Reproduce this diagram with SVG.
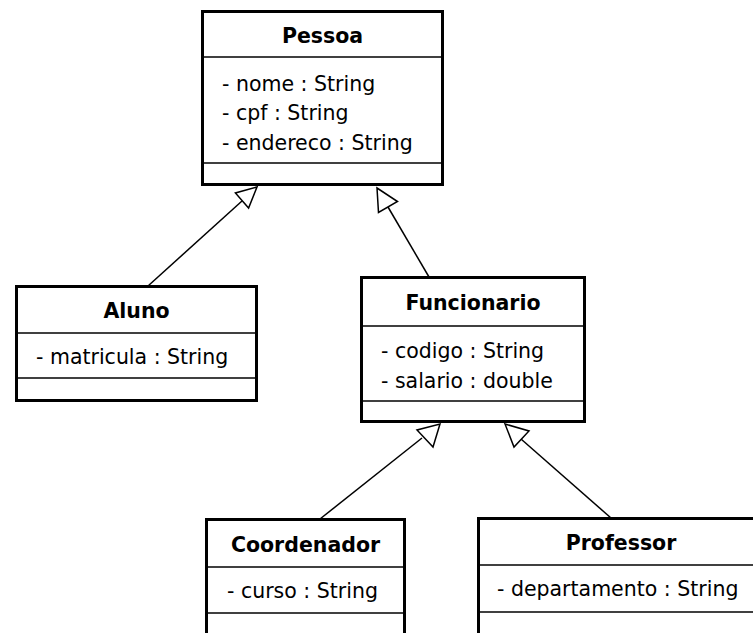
<svg xmlns="http://www.w3.org/2000/svg" width="753" height="633" viewBox="0 0 753 633">
<style>
.box{fill:#fff;stroke:#000;stroke-width:3}
.div{stroke:#000;stroke-width:1.5}
.title{font-family:"DejaVu Sans",Verdana,sans-serif;font-weight:bold;font-size:20.5px;text-anchor:middle;fill:#000}
.attr{font-family:"DejaVu Sans",Verdana,sans-serif;font-size:20.5px;fill:#000}
.edge{stroke:#000;stroke-width:1.5;fill:none}
.head{fill:#fff;stroke:#000;stroke-width:1.5}
</style>
<rect width="753" height="633" fill="#fff"/>
<g id="connectors">
<line class="edge" x1="148" y1="286" x2="242" y2="201"/>
<polygon class="head" points="257,187 248.6,208 235.4,193"/>
<line class="edge" x1="429" y1="277" x2="388" y2="207"/>
<polygon class="head" points="377,188 397.5,201.5 378.5,212.5"/>
<line class="edge" x1="320" y1="519" x2="422" y2="438"/>
<polygon class="head" points="440,424 433,447 417,430"/>
<line class="edge" x1="611" y1="518" x2="521" y2="439"/>
<polygon class="head" points="505,424 529,431 514,447"/>
</g>
<g id="Pessoa">
<rect class="box" x="202.5" y="11.5" width="240" height="173"/>
<line class="div" x1="202.5" y1="57" x2="442.5" y2="57"/>
<line class="div" x1="202.5" y1="163" x2="442.5" y2="163"/>
<text class="title" x="322.5" y="43">Pessoa</text>
<text class="attr" x="222" y="91">- nome : String</text>
<text class="attr" x="222" y="120">- cpf : String</text>
<text class="attr" x="222" y="150">- endereco : String</text>
</g>
<g id="Aluno">
<rect class="box" x="16.5" y="286.5" width="240" height="114"/>
<line class="div" x1="16.5" y1="333" x2="256.5" y2="333"/>
<line class="div" x1="16.5" y1="378" x2="256.5" y2="378"/>
<text class="title" x="136.5" y="318">Aluno</text>
<text class="attr" x="36" y="364">- matricula : String</text>
</g>
<g id="Funcionario">
<rect class="box" x="361.5" y="277.5" width="223" height="144"/>
<line class="div" x1="361.5" y1="326" x2="584.5" y2="326"/>
<line class="div" x1="361.5" y1="401" x2="584.5" y2="401"/>
<text class="title" x="473" y="310">Funcionario</text>
<text class="attr" x="381" y="358">- codigo : String</text>
<text class="attr" x="381" y="388">- salario : double</text>
</g>
<g id="Coordenador">
<rect class="box" x="206.5" y="519.5" width="198" height="130"/>
<line class="div" x1="206.5" y1="567" x2="404.5" y2="567"/>
<line class="div" x1="206.5" y1="613" x2="404.5" y2="613"/>
<text class="title" x="305.5" y="552">Coordenador</text>
<text class="attr" x="227" y="598">- curso : String</text>
</g>
<g id="Professor">
<rect class="box" x="478.5" y="518.5" width="285" height="130"/>
<line class="div" x1="478.5" y1="565" x2="763.5" y2="565"/>
<line class="div" x1="478.5" y1="612" x2="763.5" y2="612"/>
<text class="title" x="621" y="550">Professor</text>
<text class="attr" x="497" y="596">- departamento : String</text>
</g>
</svg>
